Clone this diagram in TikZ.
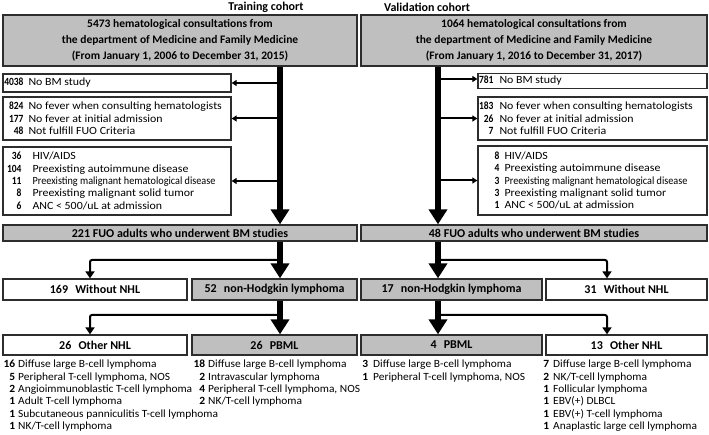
\documentclass[tikz,border=0pt]{standalone}
\usepackage{fontspec}
\usepackage{graphicx}
\setmainfont{Carlito}
\newfontfamily\wfont[FakeStretch=1.08]{Carlito}
\newfontfamily\lfont[FakeStretch=1.04]{Carlito}
\usetikzlibrary{arrows.meta}
\newlength\numw
\newlength\numg
\newcommand\nr[2]{\makebox[\numw][r]{\textbf{#1}}\hspace{\numg}#2}
\newcommand\nx[2]{\makebox[\numw][r]{\scalebox{0.8}[1]{\textbf{#1}}}\hspace{\numg}#2}
\newcommand\cond[1]{\scalebox{0.86}[1]{#1}}
\definecolor{boxgray}{RGB}{191,191,191}
\definecolor{edge}{RGB}{45,45,45}
\begin{document}
\begin{tikzpicture}[x=1pt,y=-1pt,
  bx/.style={draw=edge,line width=1.3pt,inner sep=0pt,fill=white},
  gbx/.style={bx,fill=boxgray},
  hd/.style={font=\fontsize{11.5}{15.8}\selectfont\bfseries,align=center},
  ttl/.style={font=\fontsize{12}{14}\selectfont\bfseries,inner sep=0pt},
  mid/.style={font=\fontsize{12}{14}\selectfont\bfseries},
  exl/.style={font=\fontsize{11}{12.3}\wfont,align=left,inner sep=0pt,anchor=west},
  lst/.style={font=\fontsize{11}{12.3}\lfont,align=left,inner sep=0pt,anchor=north west},
  nums/.style 2 args={execute at begin node={\global\numw=#1pt\global\numg=#2pt}},
  trunk/.style={line width=6pt,-{Triangle[width=18pt,length=15pt]}},
  side/.style={line width=2pt,-{Triangle[width=6pt,length=5pt]}},
  branch/.style={line width=2pt,rounded corners=2pt,-{Triangle[width=9pt,length=7pt]}}
]
\useasboundingbox (0,0) rectangle (709,435);

% cohort titles
\node[ttl] (trn) at (266,7) {Training cohort};
\node[ttl] (val) at (427,7) {Validation cohort};

% headers
\node[gbx,hd,minimum width=354pt,minimum height=51pt] (hL) at (180,40.5)
  {5473 hematological consultations from\\the department of Medicine and Family Medicine\\(From January 1, 2006 to December 31, 2015)};
\node[gbx,hd,minimum width=346pt,minimum height=51pt] (hR) at (534,40.5)
  {1064 hematological consultations from\\the department of Medicine and Family Medicine\\(From January 1, 2016 to December 31, 2017)};

% trunk coordinates
\coordinate (tL) at (280,0);
\coordinate (tR) at (438,0);

% exclusion boxes, training
\node[bx,minimum width=228pt,minimum height=18pt] (exL1) at (117,83) {};
\node[bx,minimum width=228pt,minimum height=43pt] (exL2) at (117,118.5) {};
\node[bx,minimum width=228pt,minimum height=68pt] (exL3) at (117,181) {};
\node[exl,nums={19}{5}] (exL1t) at ([xshift=2pt]exL1.west)
  {\nx{4038}{No BM study}};
\node[exl,nums={19}{5}] (exL2t) at ([xshift=2pt]exL2.west)
  {\nx{824}{No fever when consulting hematologists}\\
   \nx{177}{No fever at initial admission}\\
   \nx{48}{Not fulfill FUO Criteria}};
\node[exl,nums={17}{11}] (exL3t) at ([xshift=2pt]exL3.west)
  {\nx{36}{HIV/AIDS}\\
   \nx{104}{Preexisting autoimmune disease}\\
   \nx{11}{\cond{Preexisting malignant hematological disease}}\\
   \nx{8}{Preexisting malignant solid tumor}\\
   \nx{6}{ANC < 500/uL at admission}};

% exclusion boxes, validation
\node[bx,minimum width=229pt,minimum height=15pt] (exR1) at (592.5,81) {};
\node[bx,minimum width=229pt,minimum height=43pt] (exR2) at (592.5,118.5) {};
\node[bx,minimum width=229pt,minimum height=69pt] (exR3) at (592.5,180.5) {};
\node[exl,nums={14}{6}] (exR1t) at ([xshift=2pt]exR1.west)
  {\nx{781}{No BM study}};
\node[exl,nums={14}{6}] (exR2t) at ([xshift=2pt]exR2.west)
  {\nx{183}{No fever when consulting hematologists}\\
   \nx{26}{No fever at initial admission}\\
   \nx{7}{Not fulfill FUO Criteria}};
\node[exl,nums={20}{5}] (exR3t) at ([xshift=2pt]exR3.west)
  {\nx{8}{HIV/AIDS}\\
   \nx{4}{Preexisting autoimmune disease}\\
   \nx{3}{\cond{Preexisting malignant hematological disease}}\\
   \nx{3}{Preexisting malignant solid tumor}\\
   \nx{1}{ANC < 500/uL at admission}};

% BM study boxes
\node[gbx,mid,minimum width=354pt,minimum height=16pt] (bmL) at (180,233)
  {221 FUO adults who underwent BM studies};
\node[gbx,mid,minimum width=346pt,minimum height=16pt] (bmR) at (534,233)
  {48 FUO adults who underwent BM studies};

% NHL level
\node[bx,mid,minimum width=184pt,minimum height=21pt] (woL) at (95,289.5)
  {169\hspace{0.6em}Without NHL};
\node[gbx,mid,minimum width=165pt,minimum height=21pt] (nhL) at (274.5,289.5)
  {52\hspace{0.6em}non-Hodgkin lymphoma};
\node[gbx,mid,minimum width=181pt,minimum height=21pt] (nhR) at (451.5,289.5)
  {17\hspace{0.6em}non-Hodgkin lymphoma};
\node[bx,mid,minimum width=161pt,minimum height=21pt] (woR) at (626.5,289.5)
  {31\hspace{0.6em}Without NHL};

% PBML level
\node[bx,mid,minimum width=184pt,minimum height=20pt] (otL) at (95,345)
  {26\hspace{0.6em}Other NHL};
\node[gbx,mid,minimum width=165pt,minimum height=20pt] (pbL) at (274.5,345)
  {26\hspace{0.6em}PBML};
\node[gbx,mid,minimum width=181pt,minimum height=20pt] (pbR) at (451.5,345)
  {4\hspace{0.6em}PBML};
\node[bx,mid,minimum width=161pt,minimum height=20pt] (otR) at (626.5,345)
  {13\hspace{0.6em}Other NHL};

% lists
\node[lst,nums={15}{3}] (lsOL) at (0,360)
  {\nr{16}{Diffuse large B-cell lymphoma}\\
   \nr{5}{Peripheral T-cell lymphoma, NOS}\\
   \nr{2}{Angioimmunoblastic T-cell lymphoma}\\
   \nr{1}{Adult T-cell lymphoma}\\
   \nr{1}{Subcutaneous panniculitis T-cell lymphoma}\\
   \nr{1}{NK/T-cell lymphoma}};
\node[lst,nums={15}{3}] (lsPL) at (190,360)
  {\nr{18}{Diffuse large B-cell lymphoma}\\
   \nr{2}{Intravascular lymphoma}\\
   \nr{4}{Peripheral T-cell lymphoma, NOS}\\
   \nr{2}{NK/T-cell lymphoma}};
\node[lst,nums={8}{5}] (lsPR) at (360,360)
  {\nr{3}{Diffuse large B-cell lymphoma}\\
   \nr{1}{Peripheral T-cell lymphoma, NOS}};
\node[lst,nums={6}{4}] (lsOR) at (543,360)
  {\nr{7}{Diffuse large B-cell lymphoma}\\
   \nr{2}{NK/T-cell lymphoma}\\
   \nr{1}{Follicular lymphoma}\\
   \nr{1}{EBV(+) DLBCL}\\
   \nr{1}{EBV(+) T-cell lymphoma}\\
   \nr{1}{Anaplastic large cell lymphoma}};

% trunks
\draw[trunk] (hL.south -| tL) -- (bmL.north -| tL);
\draw[trunk] (hR.south -| tR) -- (bmR.north -| tR);
\draw[side] (exL1.east -| tL) -- (exL1.east);
\draw[side] (exL2.east -| tL) -- (exL2.east);
\draw[side] (exL3.east -| tL) -- (exL3.east);
\draw[side] ([yshift=2pt]exR1.west -| tR) -- ([yshift=2pt]exR1.west);
\draw[side] (exR2.west -| tR) -- (exR2.west);
\draw[side] (exR3.west -| tR) -- (exR3.west);

% lower branching
\coordinate (jL1) at (280,260);
\coordinate (jR1) at (438,260);
\coordinate (jL2) at (280,315);
\coordinate (jR2) at (438,315);
\draw[branch] (jL1) -| ([xshift=-5pt]woL.north);
\draw[branch] (jR1) -| ([xshift=-19.5pt]woR.north);
\draw[branch] (jL2) -| ([xshift=-5pt]otL.north);
\draw[branch] (jR2) -| ([xshift=-19.5pt]otR.north);
\draw[trunk] (bmL.south -| tL) -- (nhL.north -| tL);
\draw[trunk] (bmR.south -| tR) -- (nhR.north -| tR);
\draw[trunk] (nhL.south -| tL) -- (pbL.north -| tL);
\draw[trunk] (nhR.south -| tR) -- (pbR.north -| tR);
\end{tikzpicture}
\end{document}
